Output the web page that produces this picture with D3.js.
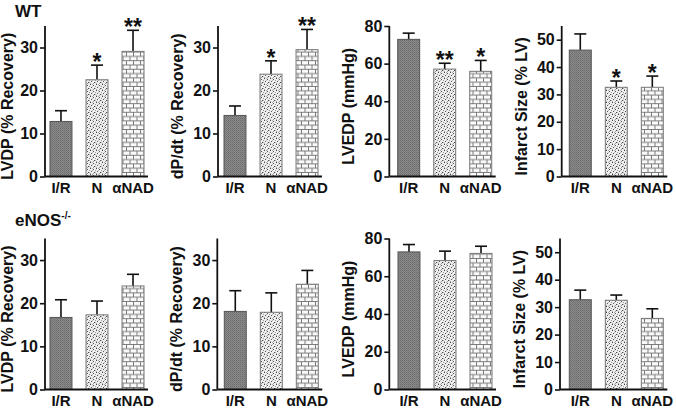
<!DOCTYPE html>
<html><head><meta charset="utf-8">
<script src="https://cdn.jsdelivr.net/npm/d3@7"></script>
<style>
html,body{margin:0;padding:0;background:#fff;}
svg text{font-family:"Liberation Sans",Arial,sans-serif;font-weight:bold;fill:#111;}
</style></head>
<body>
<svg id="c" width="676" height="409"></svg>
<script>
// ---- data ----
const categories = ["I/R", "N", "αNAD"];
const rowTitles = ["WT", "eNOS"];
const yLabels = ["LVDP (% Recovery)", "dP/dt (% Recovery)", "LVEDP (mmHg)", "Infarct Size (% LV)"];
const yMax = [35, 35, 80, 55];
const yTicks = [[0, 10, 20, 30], [0, 10, 20, 30], [0, 20, 40, 60, 80], [0, 10, 20, 30, 40, 50]];

const wtLVDP = [12.8, 22.5, 29.1];     const wtLVDPsem = [2.5, 3.4, 4.9];
const wtDPdt = [14.2, 23.8, 29.5];     const wtDPdtSem = [2.2, 3.1, 4.7];
const wtLVEDP = [72.9, 57.1, 55.9];    const wtLVEDPsem = [3.3, 3.1, 5.8];
const wtInfarct = [46.2, 32.6, 32.6];  const wtInfarctSem = [5.9, 2.3, 4.1];
const koLVDP = [16.7, 17.3, 24.0];     const koLVDPsem = [4.1, 3.2, 2.7];
const koDPdt = [18.1, 17.9, 24.4];     const koDPdtSem = [4.8, 4.5, 3.2];
const koLVEDP = [72.9, 68.3, 72.1];    const koLVEDPsem = [3.9, 5.0, 3.8];
const koInfarct = [32.7, 32.5, 25.9];  const koInfarctSem = [3.5, 1.9, 3.5];

const wtStars = [["", "*", "**"], ["", "*", "**"], ["", "**", "*"], ["", "*", "*"]];
const koStars = [["", "", ""], ["", "", ""], ["", "", ""], ["", "", ""]];

const rows = [
  {vals: [wtLVDP, wtDPdt, wtLVEDP, wtInfarct], sems: [wtLVDPsem, wtDPdtSem, wtLVEDPsem, wtInfarctSem], stars: wtStars},
  {vals: [koLVDP, koDPdt, koLVEDP, koInfarct], sems: [koLVDPsem, koDPdtSem, koLVEDPsem, koInfarctSem], stars: koStars}
];

// ---- layout ----
const rowBase = [176.5, 389.5], rowTop = [26, 238.5];
const axisX = [[45, 218, 389.3, 561.7], [45, 217.3, 389.3, 560]];
const barOff = [[5, 6, 8.4, 7.6], [5, 7, 8.7, 9.3]];
const labelOff = [[32, 35, 35, 35], [32, 35, 35, 35]];

const svg = d3.select("#c");
const defs = svg.append("defs");

// I/R: dark grey fine texture
const p1 = defs.append("pattern").attr("id", "pIR").attr("patternUnits", "userSpaceOnUse").attr("width", 2).attr("height", 2);
p1.append("rect").attr("width", 2).attr("height", 2).attr("fill", "#8a8a8a");
p1.append("rect").attr("width", 1).attr("height", 1).attr("fill", "#6c6c6c");
p1.append("rect").attr("x", 1).attr("y", 1).attr("width", 1).attr("height", 1).attr("fill", "#787878");
// N: stipple dots
const p2 = defs.append("pattern").attr("id", "pN").attr("patternUnits", "userSpaceOnUse").attr("width", 6).attr("height", 6);
p2.append("rect").attr("width", 6).attr("height", 6).attr("fill", "#eeeeee");
[[0,0,"#444"],[3,1,"#555"],[1,3,"#555"],[4,4,"#444"],[2,0,"#aaa"],[5,2,"#999"],[0,5,"#aaa"],[3,5,"#999"],[2,2,"#bbb"],[5,4,"#bbb"]].forEach(([x,y,c]) =>
  p2.append("rect").attr("x", x).attr("y", y).attr("width", 1).attr("height", 1).attr("fill", c));
// aNAD: bricks
const p3 = defs.append("pattern").attr("id", "pA").attr("patternUnits", "userSpaceOnUse").attr("width", 7).attr("height", 8.6);
p3.append("rect").attr("width", 7).attr("height", 8.6).attr("fill", "#fafafa");
p3.append("path").attr("d", "M0,0.5H7M0,4.8H7M0.5,0.5V4.8M4,4.8V8.6")
  .attr("stroke", "#7a7a7a").attr("stroke-width", 1).attr("fill", "none");
const fills = ["url(#pIR)", "url(#pN)", "url(#pA)"];
const strokes = ["#555", "#777", "#777"];

rows.forEach((row, r) => {
  // row title
  const t = svg.append("text").attr("x", 15).attr("y", r === 0 ? 17 : 226).attr("font-size", 17);
  t.append("tspan").text(rowTitles[r]);
  if (r === 1) t.append("tspan").attr("font-size", 10).attr("dy", -7).text("-/-");

  for (let p = 0; p < 4; p++) {
    const ax = axisX[r][p];
    const y = d3.scaleLinear().domain([0, yMax[p]]).range([rowBase[r], rowTop[r]]);
    const x = d3.scaleBand().domain(categories)
      .range([ax + barOff[r][p], ax + barOff[r][p] + 94]).paddingInner(0.39).paddingOuter(0);
    const g = svg.append("g");
    const vals = row.vals[p], sems = row.sems[p], stars = row.stars[p];

    // error bars (upper only)
    categories.forEach((c, i) => {
      const cx = x(c) + x.bandwidth() / 2;
      const top = y(vals[i] + sems[i]);
      g.append("line").attr("x1", cx).attr("x2", cx).attr("y1", y(vals[i])).attr("y2", top)
        .attr("stroke", "#111").attr("stroke-width", 1.6);
      g.append("line").attr("x1", cx - 6).attr("x2", cx + 6).attr("y1", top).attr("y2", top)
        .attr("stroke", "#111").attr("stroke-width", 1.6);
      if (stars[i]) g.append("text").attr("x", cx).attr("y", top + 5).attr("text-anchor", "middle")
        .attr("font-size", 23).text(stars[i]);
    });
    // bars
    g.selectAll("rect.bar").data(vals).join("rect").attr("class", "bar")
      .attr("x", (d, i) => x(categories[i])).attr("width", x.bandwidth())
      .attr("y", d => y(d)).attr("height", d => y(0) - y(d))
      .attr("fill", (d, i) => fills[i]).attr("stroke", (d, i) => strokes[i]).attr("stroke-width", 1);

    // y axis
    const ya = g.append("g").attr("transform", `translate(${ax},0)`)
      .call(d3.axisLeft(y).tickValues(yTicks[p]).tickSize(5).tickPadding(2).tickFormat(d3.format("d")));
    ya.attr("font-family", null).attr("font-size", null);
    ya.select(".domain").attr("d", `M0,${y(yMax[p])}V${y(0)}`).attr("stroke", "#111").attr("stroke-width", 1.8);
    ya.selectAll(".tick line").attr("stroke", "#111").attr("stroke-width", 1.6);
    ya.selectAll(".tick text").attr("font-size", 16).attr("fill", "#111");
    // x axis
    const xa = g.append("g").attr("transform", `translate(0,${y(0)})`)
      .call(d3.axisBottom(x).tickSize(0).tickPadding(6));
    xa.attr("font-family", null).attr("font-size", null);
    xa.select(".domain").attr("d", `M${ax},0H${ax + barOff[r][p] + 98}`).attr("stroke", "#111").attr("stroke-width", 1.8);
    xa.selectAll(".tick text").attr("font-size", 15).attr("fill", "#111");

    // y label
    g.append("text").attr("transform", `translate(${ax - labelOff[r][p]},${(rowBase[r] + rowTop[r]) / 2 + 5}) rotate(-90)`)
      .attr("text-anchor", "middle").attr("font-size", 16).text(yLabels[p]);
  }
});
</script>
</body></html>
